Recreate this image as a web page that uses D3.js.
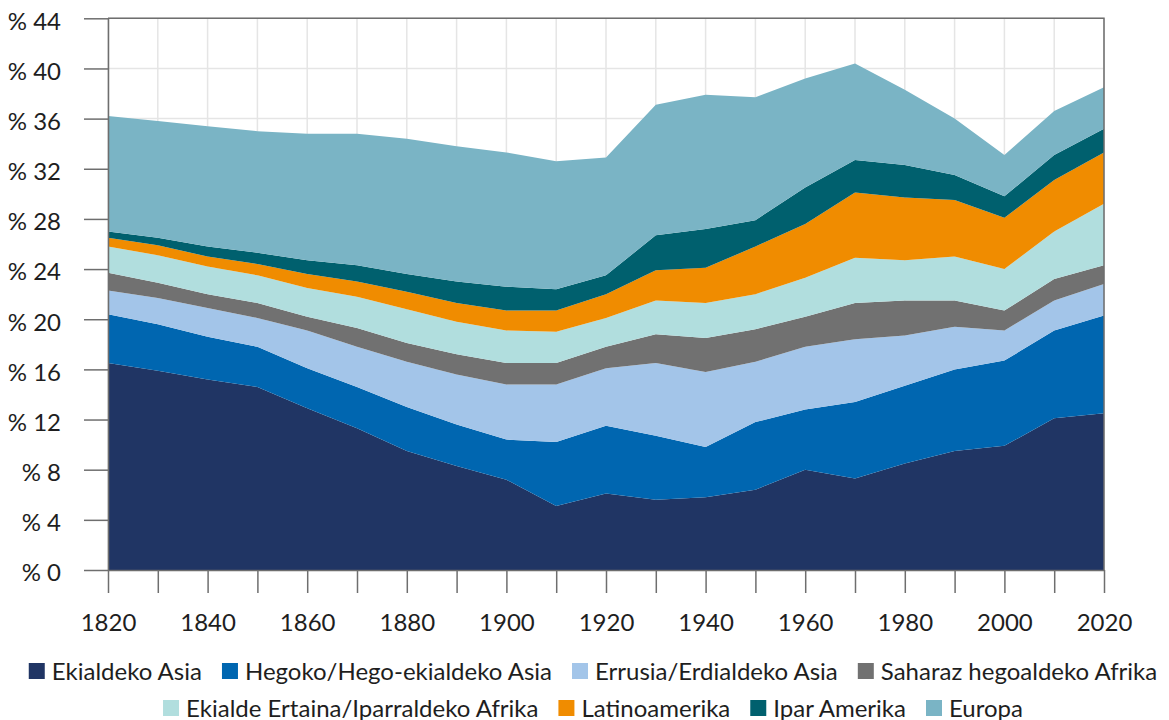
<!DOCTYPE html>
<meta charset="utf-8">
<script src="https://d3js.org/d3.v7.min.js"></script>
<style>
  body { margin: 0; background: #fff; }
  svg { font-family: Lato, "Noto Sans", sans-serif; }
</style>
<div id="main"></div>
<script>

var width = 1169
var height = 720

// data: share of world (%), one value per decade
var years = [1820, 1830, 1840, 1850, 1860, 1870, 1880, 1890, 1900, 1910, 1920,
             1930, 1940, 1950, 1960, 1970, 1980, 1990, 2000, 2010, 2020]
var ekialdekoAsia   = [16.5, 15.9, 15.2, 14.6, 12.9, 11.3, 9.5, 8.3, 7.2, 5.1, 6.1, 5.6, 5.8, 6.4, 8.0, 7.3, 8.5, 9.5, 9.9, 12.1, 12.5]
var hegoAsia        = [3.9, 3.7, 3.4, 3.2, 3.2, 3.3, 3.5, 3.3, 3.2, 5.1, 5.4, 5.1, 4.0, 5.4, 4.8, 6.1, 6.2, 6.5, 6.8, 7.0, 7.8]
var errusia         = [1.9, 2.1, 2.3, 2.3, 3.0, 3.2, 3.6, 4.0, 4.4, 4.6, 4.6, 5.8, 6.0, 4.8, 5.0, 5.0, 4.0, 3.4, 2.4, 2.4, 2.5]
var saharaz         = [1.4, 1.2, 1.1, 1.2, 1.1, 1.5, 1.5, 1.6, 1.7, 1.7, 1.7, 2.3, 2.7, 2.6, 2.4, 2.9, 2.8, 2.1, 1.6, 1.7, 1.5]
var ekialdeErtaina  = [2.1, 2.2, 2.2, 2.2, 2.3, 2.5, 2.7, 2.6, 2.6, 2.5, 2.3, 2.7, 2.8, 2.8, 3.1, 3.6, 3.2, 3.5, 3.3, 3.8, 4.9]
var latinoamerika   = [0.7, 0.8, 0.8, 0.9, 1.1, 1.2, 1.4, 1.5, 1.6, 1.7, 1.9, 2.4, 2.8, 3.8, 4.3, 5.2, 5.0, 4.5, 4.1, 4.1, 4.1]
var iparAmerika     = [0.5, 0.6, 0.8, 0.9, 1.1, 1.3, 1.4, 1.7, 1.9, 1.7, 1.5, 2.8, 3.1, 2.1, 2.9, 2.6, 2.6, 2.0, 1.7, 2.0, 1.9]
var europa          = [9.2, 9.3, 9.6, 9.7, 10.1, 10.5, 10.8, 10.8, 10.7, 10.2, 9.4, 10.4, 10.7, 9.8, 8.7, 7.7, 6.0, 4.5, 3.3, 3.5, 3.3]

var seriesNames = ["Ekialdeko Asia", "Hegoko/Hego-ekialdeko Asia", "Errusia/Erdialdeko Asia",
                   "Saharaz hegoaldeko Afrika", "Ekialde Ertaina/Iparraldeko Afrika",
                   "Latinoamerika", "Ipar Amerika", "Europa"]
var seriesValues = [ekialdekoAsia, hegoAsia, errusia, saharaz, ekialdeErtaina, latinoamerika, iparAmerika, europa]
var seriesColors = ["#203564", "#0066b0", "#a3c5e9", "#717171", "#b1dede", "#f08c00", "#00606e", "#7ab4c5"]

var yTicks = [0, 4, 8, 12, 16, 20, 24, 28, 32, 36, 40, 44]
var xLabels = [1820, 1840, 1860, 1880, 1900, 1920, 1940, 1960, 1980, 2000, 2020]

// legend rows (indexes into seriesNames)
var legendRows = [[0, 1, 2, 3], [4, 5, 6, 7]]

// build table for d3.stack
var table = years.map(function(yr, i) {
  var row = { year: yr }
  seriesNames.forEach(function(n, k) { row[n] = seriesValues[k][i] })
  return row
})

var svg = d3.select("#main")
  .append("svg")
    .attr("width", width)
    .attr("height", height)

var x = d3.scaleLinear().domain([1820, 2020]).range([108, 1104])
var y = d3.scaleLinear().domain([0, 44]).range([570, 18.3])

var axisColor = "#6e6e6e"
var textColor = "#1e1e1e"
var fontSize = 24

// grid
var grid = svg.append("g")
grid.selectAll("line.v")
  .data(years)
  .enter().append("line")
    .attr("x1", d => x(d)).attr("x2", d => x(d))
    .attr("y1", y(44)).attr("y2", y(0))
    .attr("stroke", "#e5e5e5").attr("stroke-width", 1.5)
grid.selectAll("line.h")
  .data(yTicks)
  .enter().append("line")
    .attr("x1", x(1820)).attr("x2", x(2020))
    .attr("y1", d => y(d)).attr("y2", d => y(d))
    .attr("stroke", "#e5e5e5").attr("stroke-width", 1.5)

// stacked areas
var stacked = d3.stack().keys(seriesNames)(table)
var area = d3.area()
  .x(d => x(d.data.year))
  .y0(d => y(d[0]))
  .y1(d => y(d[1]))

svg.append("g")
  .selectAll("path")
  .data(stacked)
  .enter().append("path")
    .attr("d", area)
    .attr("fill", (d, i) => seriesColors[i])

// frame (top and right)
svg.append("path")
  .attr("d", "M" + x(1820) + "," + y(44) + "H" + x(2020) + "V" + y(0))
  .attr("fill", "none")
  .attr("stroke", axisColor)
  .attr("stroke-width", 1.5)

// y axis
var yAxis = svg.append("g")
  .attr("transform", "translate(" + x(1820) + ",0)")
  .call(d3.axisLeft(y).tickValues(yTicks).tickSize(24).tickSizeOuter(0).tickPadding(23)
    .tickFormat(d => "% " + d))
yAxis.selectAll("path, line").attr("stroke", axisColor).attr("stroke-width", 1.5)
yAxis.selectAll("text")
  .attr("font-size", fontSize).attr("fill", textColor)
  .attr("font-family", "Lato, sans-serif")
  .attr("dy", "0.45em")

// x axis
var xAxis = svg.append("g")
  .attr("transform", "translate(0," + y(0) + ")")
  .call(d3.axisBottom(x).tickValues(years).tickSize(23).tickSizeOuter(0).tickPadding(21)
    .tickFormat(d => xLabels.indexOf(d) >= 0 ? d : ""))
xAxis.selectAll("path, line").attr("stroke", axisColor).attr("stroke-width", 1.5)
xAxis.selectAll("text")
  .attr("font-size", fontSize).attr("fill", textColor)
  .attr("font-family", "Lato, sans-serif")

// legend
var legend = svg.append("g")
var rowY = [671, 708]
var center = 593
legendRows.forEach(function(row, r) {
  var g = legend.append("g")
  var cx = 0
  row.forEach(function(k) {
    g.append("rect")
      .attr("x", cx).attr("y", rowY[r] - 8)
      .attr("width", 16).attr("height", 16)
      .attr("fill", seriesColors[k])
    var t = g.append("text")
      .attr("x", cx + 23).attr("y", rowY[r] + 8.5)
      .attr("font-size", fontSize).attr("fill", textColor)
      .text(seriesNames[k])
    cx += 23 + t.node().getComputedTextLength() + 20
  })
  var total = cx - 20
  g.attr("transform", "translate(" + (center - total / 2) + ",0)")
})

</script>
